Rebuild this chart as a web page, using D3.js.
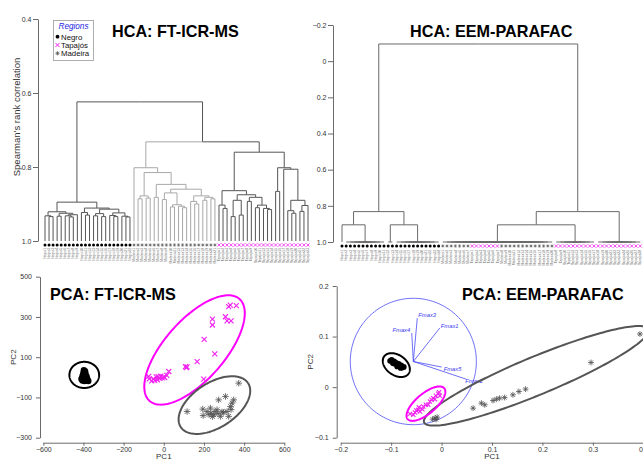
<!DOCTYPE html>
<html><head><meta charset="utf-8">
<script src="https://cdn.jsdelivr.net/npm/d3@7"></script>
<style>body{margin:0;background:#fff}svg{display:block}</style>
</head><body><svg id="c" width="643" height="460"></svg>
<script>
// ---------------- DATA ----------------
const regions = ["Negro", "Tapajós", "Madeira"];

// HCA FT-ICR-MS : leaf groups (in leaf order) and merge tree [height, child, child...]; numbers = leaf index
const hcaFtGroups = [["Negro", 22], ["Madeira", 21], ["Tapajós", 23]];
const hcaFtNegro = [0.895,
  [0.921, [0.932, 0, [0.934, 1, 2]], [0.925, [0.933, 3, 4], [0.929, [0.932, 5, [0.935, 6, 7]], 8]]],
  [0.911, [0.923, 9, [0.930, 10, 11]], [0.914, [0.926, [0.932, 12, 13], [0.934, 14, 15]], [0.924, [0.931, 16, [0.934, 17, 18]], [0.933, 19, [0.935, 20, 21]]]]]];
const hcaFtMadeira = [0.802, 22,
  [0.815,
    [0.878, [0.886, 23, 24], [0.884, 25, 26]],
    [0.847, [0.882, 27, 28],
      [0.860,
        [0.870, [0.888, 29, 30], [0.902, [0.908, 31, 32], [0.906, 33, [0.910, 34, 35]]]],
        [0.878, [0.893, 36, [0.900, 37, 38]], [0.882, [0.890, 39, 40], [0.886, 41, 42]]]]]]];
const hcaFtTapajos = [0.760,
  [0.864, [0.903, 43, [0.912, 44, 45]],
    [0.875, [0.890, [0.934, 46, 47], [0.930, 48, 49]], [0.882, [0.893, 50, 51], [0.903, [0.910, 52, 53], [0.912, 54, [0.915, 55, 56]]]]]],
  [0.802, [0.866, 57, 58], [0.806, 59, [0.890, [0.918, 60, [0.925, 61, 62]], [0.904, [0.920, 63, 64], 65]]]]];
const hcaFtTree = [0.624, hcaFtNegro, [0.732, hcaFtMadeira, hcaFtTapajos]];
const hcaFtTicks = [0.4, 0.6, 0.8, 1.0];

// HCA EEM-PARAFAC
const hcaEemGroups = [["Negro", 24], ["Madeira", 7], ["Tapajós", 7], ["Madeira", 13], ["Tapajós", 21]];
const hcaEemTree = [-0.095,
  [0.832, [0.905, 0, [1.0, 1, 2, 3, 4, 5, 6, 7, 8, 9, 10]], [0.905, [1.0, 11, 12], [1.0, 13, 14, 15, 16, 17, 18, 19, 20, 21, 22, 23]]],
  [0.832,
    [0.905,
      [1.0, 24, 25, 26, 27, 28, 29, 30, 31, 32, 33, 34, 35, 36, 37, 38, 39, 40, 41, 42, 43, 44, 45, 46, 47, 48, 49, 50],
      [1.0, 51, 52, 53, 54, 55, 56, 57, 58, 59, 60]],
    [1.0, 61, 62, 63, 64, 65, 66, 67, 68, 69, 70, 71]]];
const hcaEemTicks = [-0.2, 0, 0.2, 0.4, 0.6, 0.8, 1.0];

// PCA FT-ICR-MS scores
const pcaFtNegro = [[-398,35],[-392,30],[-400,22],[-390,18],[-395,10],[-405,5],[-385,5],[-400,-2],[-390,-5],[-410,-8],[-380,-10],[-398,-12],[-388,-15],[-405,-16],[-376,-18],[-395,-18],[-385,0],[-402,12]];
const pcaFtTapajos = [[-75,5],[-72,-8],[-60,-18],[-52,-8],[-45,-15],[-38,2],[-32,-12],[-28,4],[-20,-5],[-15,6],[-8,-3],[0,2],[5,-2],[15,10],[25,29],[108,53],[116,52],[112,48],[166,78],[199,-9],[201,189],[254,116],[242,260],[242,289],[307,301],[315,281],[335,281],[323,351],[331,359],[361,356]];
const pcaFtMadeira = [[116,-170],[194,-158],[196,-190],[215,-170],[225,-185],[232,-153],[235,-178],[242,-195],[249,-186],[255,-170],[265,-161],[270,-180],[273,-112],[282,-194],[290,-172],[298,-174],[307,-95],[315,-170],[323,-194],[332,-145],[340,-128],[348,-112],[335,-160],[373,-29]];
// confidence ellipses [region, cx, cy, semi-a, semi-b, angle deg]
const pcaFtEllipses = [["Negro", -396, 12, 74, 65, 0], ["Tapajós", 153, 136, 338, 149, 48.5], ["Madeira", 252, -138, 200, 111, 33]];
const pcaFtXTicks = [-600, -400, -200, 0, 200, 400, 600];
const pcaFtYTicks = [-300, -100, 100, 300, 500];

// PCA EEM-PARAFAC scores
const pcaEemNegro = [[-0.102,0.052],[-0.099,0.054],[-0.097,0.049],[-0.094,0.051],[-0.092,0.046],[-0.090,0.048],[-0.087,0.044],[-0.085,0.046],[-0.083,0.041],[-0.080,0.043],[-0.078,0.039],[-0.075,0.040],[-0.096,0.047],[-0.088,0.041],[-0.081,0.038]];
const pcaEemTapajos = [[-0.0626,-0.0529],[-0.0527,-0.0502],[-0.0461,-0.0449],[-0.0362,-0.0383],[-0.031,-0.035],[-0.0231,-0.0285],[-0.0165,-0.0218],[-0.0113,-0.0172],[-0.0066,-0.0132],[-0.0033,-0.0172],[-0.0132,-0.0238],[-0.0264,-0.035],[-0.0428,-0.0482],[-0.056,-0.0548],[-0.045,-0.040],[-0.020,-0.025],[-0.005,-0.010],[-0.038,-0.044],[-0.050,-0.046]];
const pcaEemMadeira = [[-0.0132,-0.0614],[-0.0178,-0.0634],[-0.0087,-0.0594],[-0.011,-0.064],[0.0625,-0.0416],[0.079,-0.0317],[0.0856,-0.035],[0.102,-0.0265],[0.1087,-0.0238],[0.115,-0.0218],[0.125,-0.0206],[0.1415,-0.0152],[0.1534,-0.0087],[0.1666,-0.004],[0.2964,0.0487],[0.3933,0.105]];
const pcaEemEllipses = [["Madeira", 0.188, 0.0224, 0.241, 0.0375, 22.5], ["Negro", -0.0897, 0.0436, 0.0296, 0.020, -35], ["Tapajós", -0.031, -0.0327, 0.0474, 0.0198, 40]];
const pcaEemXTicks = [-0.2, -0.1, 0, 0.1, 0.2, 0.3, 0.4];
const pcaEemYTicks = [-0.1, 0, 0.1, 0.2];
// correlation circle (centre x, centre y, radius) and loadings (unit-circle coordinates)
const loadCircle = [-0.056, 0.0507, 0.125];
const loadNames = ["Fmax1", "Fmax2", "Fmax3", "Fmax4", "Fmax5"];
const loadX = [0.42, 0.84, 0.063, -0.025, 0.45];
const loadY = [0.53, -0.28, 0.686, 0.449, -0.088];

// ---------------- DRAWING ----------------
const FONT = '"Liberation Sans", Arial, Helvetica, sans-serif';
const svg = d3.select("#c").attr("font-family", FONT);
const regionColor = {"Negro": "#000", "Tapajós": "#ff00ff", "Madeira": "#5a5a5a"};
const AXC = "#6a6a6a";

function markerPath(region, r) {
  if (region === "Tapajós") return `M${-r},${-r}L${r},${r}M${-r},${r}L${r},${-r}`;
  const k = r * 0.72;
  return `M${-r},0H${r}M0,${-r}V${r}M${-k},${-k}L${k},${k}M${-k},${k}L${k},${-k}`;
}
function drawMarker(g, region, x, y, r, sw) {
  if (region === "Negro") {
    g.append("circle").attr("cx", x).attr("cy", y).attr("r", r).attr("fill", "#000");
  } else {
    g.append("path").attr("transform", `translate(${x},${y})`).attr("d", markerPath(region, r))
      .attr("fill", "none").attr("stroke", region === "Tapajós" ? "#f020f0" : "#555").attr("stroke-width", region === "Tapajós" ? sw : sw * 0.75);
  }
}
function expandGroups(groups) {
  const out = [], cnt = {};
  groups.forEach(([reg, n]) => { for (let i = 0; i < n; i++) { cnt[reg] = (cnt[reg] || 0) + 1; out.push({region: reg, label: reg + cnt[reg]}); } });
  return out;
}

function drawDendro(opts) {
  const {tree, groups, x0, x1, yDom, yRange, axisX, ticks, fmt, colorBy, lineColor, labelDy} = opts;
  const leaves = expandGroups(groups);
  const xs = d3.scaleLinear().domain([0, leaves.length - 1]).range([x0, x1]);
  const ys = d3.scaleLinear().domain(yDom).range(yRange);
  const g = svg.append("g");
  function build(n) {
    if (typeof n === "number") return {h: 1.0, x: xs(n), regs: new Set([leaves[n].region])};
    const [h, ...kids] = n;
    const ch = kids.map(build);
    const regs = new Set(); ch.forEach(c => c.regs.forEach(r => regs.add(r)));
    return {h, ch, x: (d3.min(ch, c => c.x) + d3.max(ch, c => c.x)) / 2, regs};
  }
  const root = build(tree);
  (function walk(node) {
    if (!node.ch) return;
    node.ch.forEach(c => {
      let color = lineColor;
      if (colorBy && c.regs.size === 1 && c.regs.has("Madeira")) color = "#a8a8a8";
      g.append("path").attr("d", `M${c.x},${ys(c.h)}V${ys(node.h)}H${node.x}`)
        .attr("fill", "none").attr("stroke", color).attr("stroke-width", 1);
      walk(c);
    });
  })(root);
  const ax = d3.axisLeft(ys).tickValues(ticks).tickFormat(fmt).tickSize(5).tickPadding(1.5).tickSizeOuter(0);
  const ag = svg.append("g").attr("transform", `translate(${axisX},0)`).call(ax);
  ag.select(".domain").attr("stroke", AXC);
  ag.selectAll(".tick line").attr("stroke", AXC);
  ag.selectAll("text").attr("font-size", 7).attr("fill", "#333").attr("font-family", FONT);
  const by = ys(1.0);
  leaves.forEach((lf, i) => {
    drawMarker(g, lf.region, xs(i), by + 4, lf.region === "Negro" ? 1.5 : 1.6, 0.8);
    g.append("text").attr("transform", `translate(${xs(i) + 1.1},${by + labelDy}) rotate(-90)`)
      .attr("text-anchor", "end").attr("font-size", 3.3).attr("fill", "#666").text(lf.label);
  });
}

drawDendro({tree: hcaFtTree, groups: hcaFtGroups, x0: 45, x1: 308, yDom: [0.4, 1.0], yRange: [19, 241],
  axisX: 38, ticks: hcaFtTicks, fmt: d3.format(".1f"), colorBy: true, lineColor: "#555", labelDy: 7});
drawDendro({tree: hcaEemTree, groups: hcaEemGroups, x0: 342, x1: 640.2, yDom: [-0.2, 1.0], yRange: [25, 242],
  axisX: 333, ticks: hcaEemTicks, fmt: d => d === 0 ? "0" : d3.format(".1f")(d), colorBy: false, lineColor: "#6a6a6a", labelDy: 8});

svg.append("text").attr("transform", "translate(20,117) rotate(-90)").attr("text-anchor", "middle")
  .attr("font-size", 9.5).attr("fill", "#333").text("Spearman's rank correlation");

// legend
const lg = svg.append("g");
lg.append("rect").attr("x", 53.5).attr("y", 20.5).attr("width", 40).attr("height", 40).attr("fill", "#fff").attr("stroke", "#999").attr("stroke-width", 0.8);
lg.append("text").attr("x", 73.5).attr("y", 28.8).attr("text-anchor", "middle").attr("font-size", 8.2).attr("font-style", "italic").attr("fill", "#2626e0").text("Regions");
regions.forEach((r, i) => {
  const yy = 36.7 + i * 8.3;
  drawMarker(lg, r, 57.5, yy, r === "Negro" ? 1.9 : 2.1, 1.0);
  lg.append("text").attr("x", 61).attr("y", yy + 2.8).attr("font-size", 7.8).attr("fill", "#111").text(r);
});

const titles = [["HCA: FT-ICR-MS", 112, 37], ["HCA: EEM-PARAFAC", 410, 37], ["PCA: FT-ICR-MS", 50, 300], ["PCA: EEM-PARAFAC", 462, 300]];
titles.forEach(([t, x, y]) => svg.append("text").attr("x", x).attr("y", y).attr("font-size", 16.2).attr("font-weight", "bold").attr("fill", "#000").text(t));

function ellipsePath(xs, ys, cx, cy, a, b, ang) {
  const t = ang * Math.PI / 180, c = Math.cos(t), s = Math.sin(t);
  const pts = d3.range(0, 361, 2).map(deg => {
    const r = deg * Math.PI / 180, u = a * Math.cos(r), v = b * Math.sin(r);
    return [cx + u * c - v * s, cy + u * s + v * c];
  });
  return d3.line().x(p => xs(p[0])).y(p => ys(p[1]))(pts);
}

function drawPca(o) {
  const xs = d3.scaleLinear().domain(o.xDom).range(o.xRange);
  const ys = d3.scaleLinear().domain(o.yDom).range(o.yRange);
  const g = svg.append("g");
  const xa = d3.axisBottom(xs).tickValues(o.xTicks).tickFormat(o.fmt).tickSize(3).tickPadding(1.5).tickSizeOuter(0);
  const ya = d3.axisLeft(ys).tickValues(o.yTicks).tickFormat(o.fmt).tickSize(4).tickPadding(4).tickSizeOuter(0);
  const xg = svg.append("g").attr("transform", `translate(0,${o.xAxisY})`).call(xa);
  const yg = svg.append("g").attr("transform", `translate(${o.yAxisX},0)`).call(ya);
  [xg, yg].forEach(a => {
    a.select(".domain").attr("stroke", AXC);
    a.selectAll(".tick line").attr("stroke", AXC);
    a.selectAll("text").attr("font-size", 7).attr("fill", "#333").attr("font-family", FONT);
  });
  svg.append("text").attr("x", (o.xRange[0] + o.xRange[1]) / 2).attr("y", o.xAxisY + 16).attr("text-anchor", "middle").attr("font-size", 8).attr("fill", "#333").text("PC1");
  svg.append("text").attr("transform", `translate(${o.pc2X},${(o.yRange[0] + o.yRange[1]) / 2}) rotate(-90)`).attr("text-anchor", "middle").attr("font-size", 8).attr("fill", "#333").text("PC2");
  if (o.extra) o.extra(g, xs, ys);
  o.ellipses.forEach(([reg, cx, cy, a, b, ang]) => {
    g.append("path").attr("d", ellipsePath(xs, ys, cx, cy, a, b, ang)).attr("fill", "none")
      .attr("stroke", reg === "Madeira" ? "#555" : regionColor[reg]).attr("stroke-width", 2);
  });
  o.series.forEach(([reg, pts]) => pts.forEach(p => drawMarker(g, reg, xs(p[0]), ys(p[1]), reg === "Negro" ? o.dotR : (reg === "Madeira" ? o.astR : o.symR), 1.1)));
}

drawPca({xDom: [-600, 600], xRange: [43.3, 284.3], yDom: [-300, 500], yRange: [437.7, 276.7],
  xAxisY: 442.7, yAxisX: 40, xTicks: pcaFtXTicks, yTicks: pcaFtYTicks, fmt: d3.format("d"), pc2X: 16,
  ellipses: pcaFtEllipses, dotR: 3.2, symR: 2.5, astR: 3.3,
  series: [["Madeira", pcaFtMadeira], ["Tapajós", pcaFtTapajos], ["Negro", pcaFtNegro]]});

drawPca({xDom: [-0.2, 0.4], xRange: [340.7, 643.3], yDom: [-0.1, 0.2], yRange: [437.7, 286],
  xAxisY: 442.7, yAxisX: 336.7, xTicks: pcaEemXTicks, yTicks: pcaEemYTicks, fmt: d => d === 0 ? "0" : d3.format(".1f")(d), pc2X: 313,
  ellipses: pcaEemEllipses, dotR: 2.9, symR: 2.1, astR: 2.9,
  series: [["Madeira", pcaEemMadeira], ["Tapajós", pcaEemTapajos], ["Negro", pcaEemNegro]],
  extra: (g, xs, ys) => {
    const [cx, cy, r] = loadCircle;
    g.append("path").attr("d", ellipsePath(xs, ys, cx, cy, r, r, 0)).attr("fill", "none").attr("stroke", "#4a4af5").attr("stroke-width", 0.8);
    const lab = {Fmax1: [1, 0, "start"], Fmax2: [-1, 4.2, "start"], Fmax3: [1, -1, "start"], Fmax4: [-1.5, -1, "end"], Fmax5: [2, 4, "start"]};
    loadNames.forEach((nm, i) => {
      const ex = cx + loadX[i] * r, ey = cy + loadY[i] * r;
      g.append("line").attr("x1", xs(cx)).attr("y1", ys(cy)).attr("x2", xs(ex)).attr("y2", ys(ey)).attr("stroke", "#4a4af5").attr("stroke-width", 0.8);
      const [dx, dy, anc] = lab[nm];
      g.append("text").attr("x", xs(ex) + dx).attr("y", ys(ey) + dy).attr("text-anchor", anc).attr("font-size", 5.8)
        .attr("font-style", "italic").attr("fill", "#3a3af0").text(nm);
    });
  }});
</script></body></html>
